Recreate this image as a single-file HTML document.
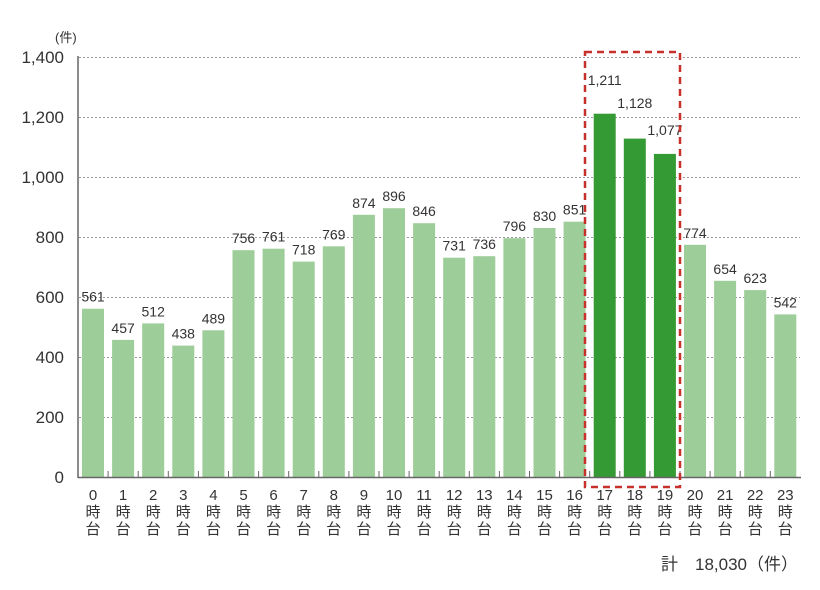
<!DOCTYPE html>
<html><head><meta charset="utf-8"><style>body{margin:0;background:#fff}svg{display:block;font-family:"Liberation Sans","Noto Sans CJK JP",sans-serif}</style></head><body>
<svg width="820" height="590" viewBox="0 0 820 590" xmlns="http://www.w3.org/2000/svg">
<g stroke="#999" stroke-width="1" stroke-dasharray="2,2">
<line x1="79" x2="800" y1="57.5" y2="57.5"/><line x1="79" x2="800" y1="117.5" y2="117.5"/><line x1="79" x2="800" y1="177.5" y2="177.5"/><line x1="79" x2="800" y1="237.5" y2="237.5"/><line x1="79" x2="800" y1="297.5" y2="297.5"/><line x1="79" x2="800" y1="357.5" y2="357.5"/><line x1="79" x2="800" y1="417.5" y2="417.5"/>
</g>
<g font-size="17" fill="#333" text-anchor="end">
<text x="64" y="63">1,400</text><text x="64" y="123">1,200</text><text x="64" y="183">1,000</text><text x="64" y="243">800</text><text x="64" y="303">600</text><text x="64" y="363">400</text><text x="64" y="423">200</text><text x="64" y="483">0</text>
</g>
<text x="55" y="42" font-size="13" fill="#333">(件)</text>
<g fill="#9dcd98">
<rect x="82" y="308.7" width="22" height="168.3"/>
<rect x="112.1" y="339.9" width="22" height="137.1"/>
<rect x="142.2" y="323.4" width="22" height="153.6"/>
<rect x="172.3" y="345.6" width="22" height="131.4"/>
<rect x="202.4" y="330.3" width="22" height="146.7"/>
<rect x="232.5" y="250.2" width="22" height="226.8"/>
<rect x="262.6" y="248.7" width="22" height="228.3"/>
<rect x="292.7" y="261.6" width="22" height="215.4"/>
<rect x="322.8" y="246.3" width="22" height="230.7"/>
<rect x="352.9" y="214.8" width="22" height="262.2"/>
<rect x="383" y="208.2" width="22" height="268.8"/>
<rect x="413.1" y="223.2" width="22" height="253.8"/>
<rect x="443.2" y="257.7" width="22" height="219.3"/>
<rect x="473.3" y="256.2" width="22" height="220.8"/>
<rect x="503.4" y="238.2" width="22" height="238.8"/>
<rect x="533.5" y="228" width="22" height="249"/>
<rect x="563.6" y="221.7" width="22" height="255.3"/>
<rect x="684" y="244.8" width="22" height="232.2"/>
<rect x="714.1" y="280.8" width="22" height="196.2"/>
<rect x="744.2" y="290.1" width="22" height="186.9"/>
<rect x="774.3" y="314.4" width="22" height="162.6"/>
</g>
<g fill="#349a33">
<rect x="593.7" y="113.7" width="22" height="363.3"/>
<rect x="623.8" y="138.6" width="22" height="338.4"/>
<rect x="653.9" y="153.9" width="22" height="323.1"/>
</g>
<g font-size="14" fill="#333" text-anchor="middle">
<text x="93" y="301.7">561</text><text x="123.1" y="332.9">457</text><text x="153.2" y="316.4">512</text><text x="183.3" y="338.6">438</text><text x="213.4" y="323.3">489</text><text x="243.5" y="243.2">756</text><text x="273.6" y="241.7">761</text><text x="303.7" y="254.6">718</text><text x="333.8" y="239.3">769</text><text x="363.9" y="207.8">874</text><text x="394" y="201.2">896</text><text x="424.1" y="216.2">846</text><text x="454.2" y="250.7">731</text><text x="484.3" y="249.2">736</text><text x="514.4" y="231.2">796</text><text x="544.5" y="221">830</text><text x="574.6" y="214.7">851</text><text x="604.7" y="85">1,211</text><text x="634.8" y="108">1,128</text><text x="664.9" y="135">1,077</text><text x="695" y="237.8">774</text><text x="725.1" y="273.8">654</text><text x="755.2" y="283.1">623</text><text x="785.3" y="307.4">542</text>
</g>
<g stroke="#666" stroke-width="1">
<line x1="108.1" x2="108.1" y1="471" y2="477"/><line x1="138.2" x2="138.2" y1="471" y2="477"/><line x1="168.3" x2="168.3" y1="471" y2="477"/><line x1="198.4" x2="198.4" y1="471" y2="477"/><line x1="228.5" x2="228.5" y1="471" y2="477"/><line x1="258.6" x2="258.6" y1="471" y2="477"/><line x1="288.7" x2="288.7" y1="471" y2="477"/><line x1="318.8" x2="318.8" y1="471" y2="477"/><line x1="348.9" x2="348.9" y1="471" y2="477"/><line x1="379" x2="379" y1="471" y2="477"/><line x1="409.1" x2="409.1" y1="471" y2="477"/><line x1="439.2" x2="439.2" y1="471" y2="477"/><line x1="469.3" x2="469.3" y1="471" y2="477"/><line x1="499.4" x2="499.4" y1="471" y2="477"/><line x1="529.5" x2="529.5" y1="471" y2="477"/><line x1="559.6" x2="559.6" y1="471" y2="477"/><line x1="589.7" x2="589.7" y1="471" y2="477"/><line x1="619.8" x2="619.8" y1="471" y2="477"/><line x1="649.9" x2="649.9" y1="471" y2="477"/><line x1="680" x2="680" y1="471" y2="477"/><line x1="710.1" x2="710.1" y1="471" y2="477"/><line x1="740.2" x2="740.2" y1="471" y2="477"/><line x1="770.3" x2="770.3" y1="471" y2="477"/>
</g>
<g font-size="15" fill="#333" text-anchor="middle">
<text x="93" y="500">0</text><text x="123.1" y="500">1</text><text x="153.2" y="500">2</text><text x="183.3" y="500">3</text><text x="213.4" y="500">4</text><text x="243.5" y="500">5</text><text x="273.6" y="500">6</text><text x="303.7" y="500">7</text><text x="333.8" y="500">8</text><text x="363.9" y="500">9</text><text x="394" y="500">10</text><text x="424.1" y="500">11</text><text x="454.2" y="500">12</text><text x="484.3" y="500">13</text><text x="514.4" y="500">14</text><text x="544.5" y="500">15</text><text x="574.6" y="500">16</text><text x="604.7" y="500">17</text><text x="634.8" y="500">18</text><text x="664.9" y="500">19</text><text x="695" y="500">20</text><text x="725.1" y="500">21</text><text x="755.2" y="500">22</text><text x="785.3" y="500">23</text>
<text x="93" y="517">時</text><text x="123.1" y="517">時</text><text x="153.2" y="517">時</text><text x="183.3" y="517">時</text><text x="213.4" y="517">時</text><text x="243.5" y="517">時</text><text x="273.6" y="517">時</text><text x="303.7" y="517">時</text><text x="333.8" y="517">時</text><text x="363.9" y="517">時</text><text x="394" y="517">時</text><text x="424.1" y="517">時</text><text x="454.2" y="517">時</text><text x="484.3" y="517">時</text><text x="514.4" y="517">時</text><text x="544.5" y="517">時</text><text x="574.6" y="517">時</text><text x="604.7" y="517">時</text><text x="634.8" y="517">時</text><text x="664.9" y="517">時</text><text x="695" y="517">時</text><text x="725.1" y="517">時</text><text x="755.2" y="517">時</text><text x="785.3" y="517">時</text>
<text x="93" y="534">台</text><text x="123.1" y="534">台</text><text x="153.2" y="534">台</text><text x="183.3" y="534">台</text><text x="213.4" y="534">台</text><text x="243.5" y="534">台</text><text x="273.6" y="534">台</text><text x="303.7" y="534">台</text><text x="333.8" y="534">台</text><text x="363.9" y="534">台</text><text x="394" y="534">台</text><text x="424.1" y="534">台</text><text x="454.2" y="534">台</text><text x="484.3" y="534">台</text><text x="514.4" y="534">台</text><text x="544.5" y="534">台</text><text x="574.6" y="534">台</text><text x="604.7" y="534">台</text><text x="634.8" y="534">台</text><text x="664.9" y="534">台</text><text x="695" y="534">台</text><text x="725.1" y="534">台</text><text x="755.2" y="534">台</text><text x="785.3" y="534">台</text>
</g>
<line x1="78" x2="78" y1="56" y2="478" stroke="#666" stroke-width="1.5"/>
<line x1="78" x2="801" y1="477.5" y2="477.5" stroke="#666" stroke-width="1.5"/>
<rect x="585" y="52" width="95" height="435" fill="none" stroke="#c8302c" stroke-width="2.5" stroke-dasharray="7,5"/>
<text x="798" y="570" font-size="17" fill="#333" text-anchor="end">計　18,030（件）</text>
</svg>
</body></html>
